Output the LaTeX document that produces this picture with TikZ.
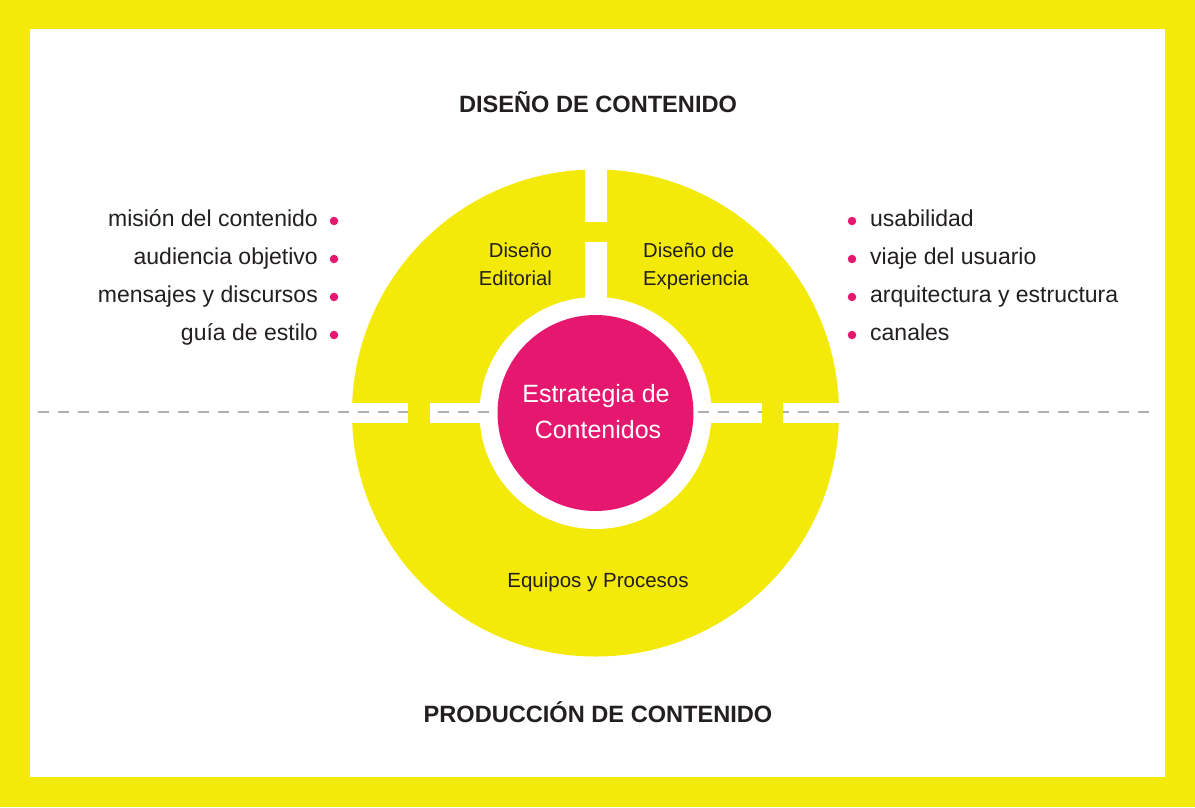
\documentclass[tikz,border=0pt]{standalone}
\usepackage{fontspec}
\setmainfont{Liberation Sans}
\definecolor{yel}{HTML}{F4EA0A}
\definecolor{pnk}{HTML}{E5176E}
\definecolor{ink}{HTML}{231F20}
\definecolor{dashgray}{HTML}{B0B0B0}
\begin{document}
\begin{tikzpicture}[x=1pt,y=-1pt,
  listtxt/.style={font=\fontsize{23}{27}\selectfont, text=ink, inner sep=0pt},
  titletxt/.style={font=\fontsize{23.6}{28}\selectfont\bfseries, text=ink, inner sep=0pt, anchor=base},
  segtxt/.style={font=\fontsize{20.2}{24}\selectfont, text=ink, inner sep=0pt},
  coretxt/.style={font=\fontsize{25}{30}\selectfont, text=white, inner sep=0pt, anchor=base},
  bullet/.style={circle, fill=pnk, inner sep=0pt, minimum size=8.5pt}]
\useasboundingbox (0,0) rectangle (1195,807);
% frame
\fill[yel] (0,0) rectangle (1195,807);
\fill[white] (30,29) rectangle (1165,777);
% outer yellow disk
\fill[yel] (595.5,413) circle (243.5);
% gaps
\fill[white] (585,160) rectangle (607,330);
\fill[white] (340,403) rectangle (520,423);
\fill[white] (670,403) rectangle (850,423);
% inner white ring
\fill[white] (595.5,413) circle (116);
% dashed guide line
\draw[dashgray, line width=1.2pt, dash pattern=on 11pt off 9pt] (38,412) -- (1150,412);
% small yellow bridges
\fill[yel] (585,222) rectangle (607,242);
\fill[yel] (408,403) rectangle (430,423);
\fill[yel] (762,403) rectangle (783,423);
% pink core
\node[circle, fill=pnk, minimum size=196pt, inner sep=0pt] (core) at (595.5,413) {};
% titles
\node[titletxt] (t1) at (598,112) {DISEÑO DE CONTENIDO};
\node[titletxt] (t2) at (598,722) {PRODUCCIÓN DE CONTENIDO};
% segment labels
\node[segtxt, anchor=base east] (ed1) at (552,257) {Diseño};
\node[segtxt, anchor=base east] (ed2) at (552,285) {Editorial};
\node[segtxt, anchor=base west] (ex1) at (643,257) {Diseño de};
\node[segtxt, anchor=base west] (ex2) at (643,285) {Experiencia};
\node[segtxt, anchor=base, font=\fontsize{20.5}{24}\selectfont] (eq) at (598,587) {Equipos y Procesos};
% core text
\node[coretxt] (c1) at (596,402) {Estrategia de};
\node[coretxt] (c2) at (598,438) {Contenidos};
% left list
\node[listtxt, anchor=base east] (l1) at (318,226) {misión del contenido};
\node[listtxt, anchor=base east] (l2) at (318,264) {audiencia objetivo};
\node[listtxt, anchor=base east] (l3) at (318,302) {mensajes y discursos};
\node[listtxt, anchor=base east] (l4) at (318,340) {guía de estilo};
\node[bullet] (lb1) at (334,221) {};
\node[bullet] (lb2) at (334,259) {};
\node[bullet] (lb3) at (334,297) {};
\node[bullet] (lb4) at (334,335) {};
% right list
\node[listtxt, anchor=base west] (r1) at (870,226) {usabilidad};
\node[listtxt, anchor=base west] (r2) at (870,264) {viaje del usuario};
\node[listtxt, anchor=base west] (r3) at (870,302) {arquitectura y estructura};
\node[listtxt, anchor=base west] (r4) at (870,340) {canales};
\node[bullet] (rb1) at (852,221) {};
\node[bullet] (rb2) at (852,259) {};
\node[bullet] (rb3) at (852,297) {};
\node[bullet] (rb4) at (852,335) {};
\end{tikzpicture}
\end{document}
